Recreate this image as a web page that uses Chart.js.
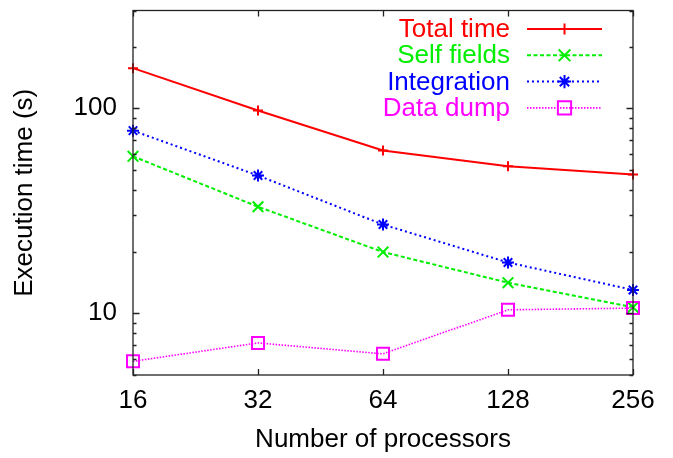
<!DOCTYPE html>
<html>
<head>
<meta charset="utf-8">
<script src="https://cdn.jsdelivr.net/npm/chart.js@4.4.1/dist/chart.umd.min.js"></script>
<style>
  html, body { margin: 0; padding: 0; background: #fff; }
  #wrap { width: 673px; height: 458px; }
</style>
</head>
<body>
<div id="wrap"><canvas id="c" width="673" height="458"></canvas></div>
<script>
// Processor counts (log2 axis) and timings in seconds
const processors = [16, 32, 64, 128, 256];
const totalTime   = [157, 97.5, 62.2, 52.1, 47.5];
const selfFields  = [58.3, 33.1, 19.9, 14.1, 10.7];
const integration = [77.8, 47.0, 27.1, 17.7, 13.0];
const dataDump    = [5.83, 7.17, 6.34, 10.4, 10.6];

// Axis ticks
const xTicks = [16, 32, 64, 128, 256];
const yTicks = [5, 6, 7, 8, 9, 10, 20, 30, 40, 50, 60, 70, 80, 90, 100, 200, 300];
const yLabeled = [10, 100];

const FONT = 'Liberation Sans, Arial, Helvetica, sans-serif';
const AXIS_COLOR = '#222';

const toPoints = (vals) => processors.map((p, i) => ({ x: p, y: vals[i] }));

// Framed axes with inward tick marks on all four sides, plus a key in the top-right corner
const framePlugin = {
  id: 'frame',
  afterDatasetsDraw(chart) {
    const { ctx, chartArea: a, scales: { x, y } } = chart;
    ctx.save();
    ctx.strokeStyle = AXIS_COLOR;
    ctx.lineWidth = 1.3;
    ctx.setLineDash([]);
    ctx.strokeRect(a.left, a.top, a.right - a.left, a.bottom - a.top);
    ctx.beginPath();
    y.ticks.forEach(t => {
      const py = Math.round(y.getPixelForValue(t.value)) + 0.5;
      const len = yLabeled.includes(t.value) ? 6.5 : 3.5;
      ctx.moveTo(a.left, py); ctx.lineTo(a.left + len, py);
      ctx.moveTo(a.right, py); ctx.lineTo(a.right - len, py);
    });
    x.ticks.forEach(t => {
      const px = Math.round(x.getPixelForValue(t.value)) + 0.5;
      ctx.moveTo(px, a.bottom); ctx.lineTo(px, a.bottom - 6);
      ctx.moveTo(px, a.top); ctx.lineTo(px, a.top + 6);
    });
    ctx.stroke();
    ctx.restore();
  },
  afterDraw(chart) {
    const { ctx } = chart;
    const textRight = 510, lineL = 527, lineR = 602, top = 29, step = 26.3;
    ctx.save();
    ctx.font = '26px ' + FONT;
    ctx.textAlign = 'right';
    ctx.textBaseline = 'middle';
    chart.data.datasets.forEach((ds, i) => {
      const yy = top + i * step;
      ctx.fillStyle = ds.borderColor;
      ctx.fillText(ds.label, textRight, yy + 1);
      ctx.strokeStyle = ds.borderColor;
      ctx.lineWidth = ds.borderWidth;
      ctx.setLineDash(ds.borderDash || []);
      ctx.beginPath();
      ctx.moveTo(lineL, yy); ctx.lineTo(lineR, yy);
      ctx.stroke();
      ctx.setLineDash([]);
      ctx.lineWidth = ds.pointBorderWidth;
      ctx.fillStyle = 'rgba(0,0,0,0)';
      const cx = (lineL + lineR) / 2;
      if (Chart.helpers && Chart.helpers.drawPoint) {
        Chart.helpers.drawPoint(ctx, {
          pointStyle: ds.pointStyle, radius: ds.pointRadius * 1.1,
          borderWidth: ds.pointBorderWidth, rotation: 0
        }, cx, yy);
      }
    });
    ctx.restore();
  }
};

const common = { fill: false, tension: 0, pointBackgroundColor: 'rgba(0,0,0,0)', clip: false };

new Chart(document.getElementById('c'), {
  type: 'line',
  data: {
    datasets: [
      Object.assign({}, common, {
        label: 'Total time', data: toPoints(totalTime), order: 4,
        borderColor: '#ff0000', borderWidth: 2, borderDash: [],
        pointStyle: 'cross', pointRadius: 5, pointBorderWidth: 2, pointBorderColor: '#ff0000'
      }),
      Object.assign({}, common, {
        label: 'Self fields', data: toPoints(selfFields), order: 3,
        borderColor: '#00ee00', borderWidth: 2, borderDash: [4, 2.5],
        pointStyle: 'crossRot', pointRadius: 7.5, pointBorderWidth: 2, pointBorderColor: '#00ee00'
      }),
      Object.assign({}, common, {
        label: 'Integration', data: toPoints(integration), order: 2,
        borderColor: '#0000ff', borderWidth: 2, borderDash: [2, 3],
        pointStyle: 'star', pointRadius: 6, pointBorderWidth: 2, pointBorderColor: '#0000ff'
      }),
      Object.assign({}, common, {
        label: 'Data dump', data: toPoints(dataDump), order: 1,
        borderColor: '#ff00ff', borderWidth: 1.6, borderDash: [1.5, 1.5],
        pointStyle: 'rect', pointRadius: 8.5, pointBorderWidth: 2, pointBorderColor: '#ff00ff'
      })
    ]
  },
  options: {
    responsive: false,
    animation: false,
    events: [],
    layout: { padding: { top: 10, right: 40, left: 0, bottom: 0 } },
    plugins: { legend: { display: false }, tooltip: { enabled: false } },
    scales: {
      x: {
        type: 'logarithmic', min: 16, max: 256,
        grid: { display: false, drawTicks: false },
        border: { display: false },
        afterBuildTicks: (s) => { s.ticks = xTicks.map(v => ({ value: v })); },
        afterFit: (s) => { s.height = 83; s.paddingLeft = 0; s.paddingRight = 0; },
        ticks: {
          autoSkip: false, maxRotation: 0, padding: 10,
          color: '#000', font: { family: FONT, size: 26 },
          callback: (v) => String(v)
        },
        title: {
          display: true, text: 'Number of processors', color: '#000',
          font: { family: FONT, size: 26 }, padding: { top: 0, bottom: 3 }
        }
      },
      y: {
        type: 'logarithmic', min: 5, max: 300,
        grid: { display: false, drawTicks: false },
        border: { display: false },
        afterBuildTicks: (s) => { s.ticks = yTicks.map(v => ({ value: v })); },
        afterFit: (s) => { s.width = 133; s.paddingTop = 0; s.paddingBottom = 0; },
        ticks: {
          autoSkip: false, padding: 16,
          color: '#000', font: { family: FONT, size: 26 },
          callback: (v) => yLabeled.includes(v) ? String(v) : ''
        },
        title: {
          display: true, text: 'Execution time (s)', color: '#000',
          font: { family: FONT, size: 26 }, padding: { top: 9, bottom: 0 }
        }
      }
    }
  },
  plugins: [framePlugin]
});
</script>
</body>
</html>
